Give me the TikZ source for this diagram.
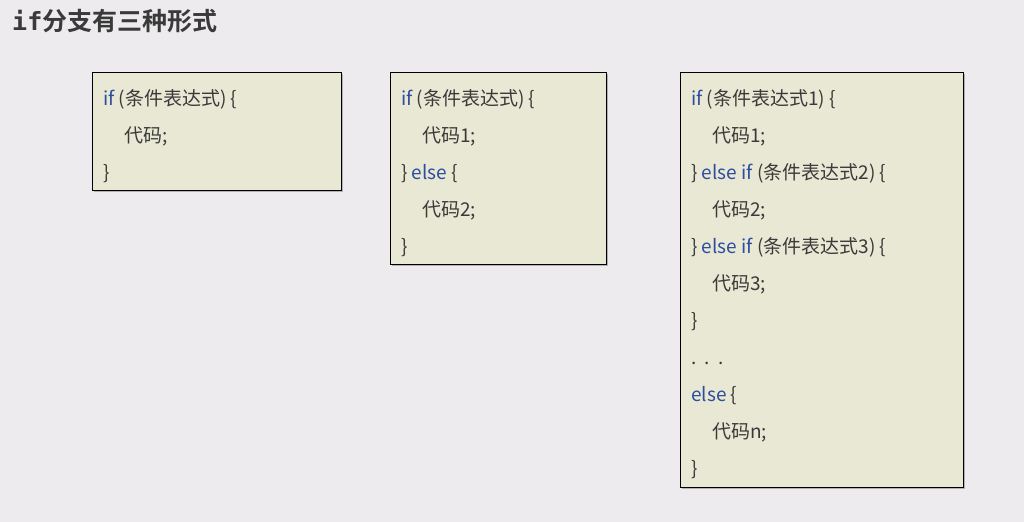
\documentclass[tikz,border=0pt]{standalone}
\usepackage{fontspec}
\setmainfont{Noto Sans CJK SC}
\newfontfamily\titlecjk{Noto Sans CJK SC}[BoldFont={* Bold}]
\newfontfamily\titlemono{DejaVu Sans Mono}
\usetikzlibrary{positioning,shadows}
\definecolor{pagebg}{HTML}{EDEBEE}
\definecolor{boxfill}{HTML}{E9E8D4}
\definecolor{kwblue}{HTML}{2D4E9E}
\definecolor{codegray}{HTML}{3A3A3A}
\newcommand{\kw}[1]{\textcolor{kwblue}{#1}}
\tikzset{codebox/.style={rectangle,draw=black,line width=1.2pt,fill=boxfill,anchor=north west,inner sep=0pt,drop shadow={shadow xshift=1.5pt,shadow yshift=-1.5pt,fill=black!45,opacity=0.6}}}
\tikzset{codeline/.style={anchor=base west,inner sep=0pt,text=codegray,font=\fontsize{19}{19}\selectfont}}
\tikzset{heading/.style={anchor=base west,inner sep=0pt,text=codegray,font=\fontsize{25}{25}\selectfont\bfseries}}

\begin{document}
\begin{tikzpicture}[x=1pt,y=1pt]
\useasboundingbox[fill=pagebg] (0,0) rectangle (1024,-522);
\node (title) [heading] at (12,-30) {{\titlemono if}\titlecjk 分支有三种形式};
% the three boxes
\node (single) [codebox,minimum width=249pt,minimum height=118pt] at (92,-72) {};
\node (double) [codebox,minimum width=216pt,minimum height=192pt] at (390,-72) {};
\node (multi)  [codebox,minimum width=283pt,minimum height=415pt] at (680,-72) {};
% code lines
\foreach \dx/\txt [count=\i] in {0/{\kw{if} (条件表达式) \{},21/代码;,0/\}}
	\node (single\i) [codeline] at ([xshift=11+\dx,yshift=-33-37*(\i-1)]single.north west) {\txt};
\foreach \dx/\txt [count=\i] in {0/{\kw{if} (条件表达式) \{},21/代码1;,0/{\} \kw{else} \{},21/代码2;,0/\}}
	\node (double\i) [codeline] at ([xshift=11+\dx,yshift=-33-37*(\i-1)]double.north west) {\txt};
\foreach \dx/\txt [count=\i] in {0/{\kw{if} (条件表达式1) \{},21/代码1;,0/{\} \kw{else if} (条件表达式2) \{},21/代码2;,0/{\} \kw{else if} (条件表达式3) \{},21/代码3;,0/\},0/{.\ \ .\ \ .},0/{\kw{else} \{},21/代码n;,0/\}}
	\node (multi\i) [codeline] at ([xshift=11+\dx,yshift=-33-37*(\i-1)]multi.north west) {\txt};
\end{tikzpicture}
\end{document}
